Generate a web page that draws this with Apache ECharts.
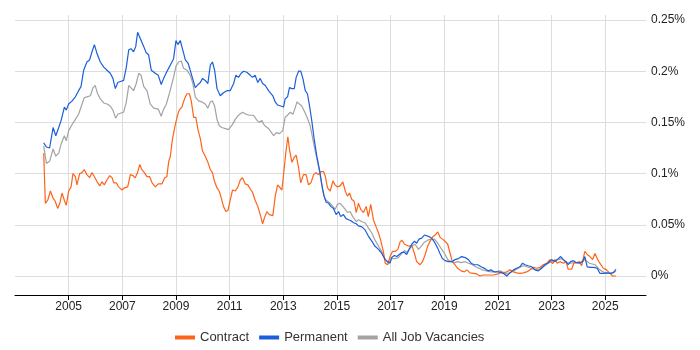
<!DOCTYPE html>
<html>
<head>
<meta charset="utf-8">
<script src="https://cdn.jsdelivr.net/npm/echarts@6/dist/echarts.min.js"></script>
<style>html,body{margin:0;padding:0;background:#fff;}#c{width:700px;height:350px;}</style>
</head>
<body>
<div id="c"></div>
<script>
var yearTicks = [2005,2007,2009,2011,2013,2015,2017,2019,2021,2023,2025];
var valueTicks = [0,0.05,0.1,0.15,0.2,0.25];
var seriesNames = ['Contract','Permanent','All Job Vacancies'];

var contractData = [[2004.07,0.120],[2004.13,0.071],[2004.22,0.074],[2004.32,0.083],[2004.42,0.076],[2004.50,0.073],[2004.59,0.066],[2004.67,0.071],[2004.75,0.081],[2004.84,0.074],[2004.91,0.069],[2005.00,0.083],[2005.09,0.087],[2005.16,0.100],[2005.25,0.097],[2005.31,0.089],[2005.41,0.100],[2005.50,0.101],[2005.58,0.104],[2005.68,0.099],[2005.78,0.096],[2005.87,0.101],[2005.96,0.097],[2006.06,0.092],[2006.16,0.088],[2006.24,0.092],[2006.33,0.089],[2006.43,0.094],[2006.53,0.098],[2006.62,0.096],[2006.68,0.091],[2006.78,0.091],[2006.86,0.087],[2006.99,0.084],[2007.07,0.086],[2007.20,0.087],[2007.30,0.099],[2007.40,0.098],[2007.48,0.096],[2007.57,0.101],[2007.65,0.109],[2007.73,0.104],[2007.82,0.101],[2007.92,0.097],[2008.02,0.097],[2008.11,0.091],[2008.23,0.087],[2008.34,0.090],[2008.48,0.090],[2008.58,0.096],[2008.66,0.097],[2008.73,0.112],[2008.79,0.117],[2008.87,0.134],[2008.97,0.147],[2009.05,0.156],[2009.12,0.162],[2009.22,0.165],[2009.32,0.173],[2009.41,0.178],[2009.50,0.178],[2009.57,0.171],[2009.66,0.155],[2009.74,0.155],[2009.82,0.143],[2009.91,0.134],[2009.99,0.122],[2010.09,0.117],[2010.19,0.111],[2010.28,0.104],[2010.36,0.101],[2010.44,0.092],[2010.53,0.086],[2010.61,0.083],[2010.69,0.076],[2010.77,0.068],[2010.86,0.063],[2010.94,0.064],[2011.02,0.074],[2011.11,0.084],[2011.21,0.083],[2011.31,0.087],[2011.40,0.094],[2011.48,0.096],[2011.58,0.090],[2011.68,0.089],[2011.77,0.085],[2011.85,0.082],[2011.95,0.074],[2012.05,0.068],[2012.14,0.060],[2012.23,0.051],[2012.30,0.057],[2012.39,0.063],[2012.48,0.060],[2012.61,0.059],[2012.70,0.078],[2012.79,0.089],[2012.86,0.088],[2012.95,0.084],[2013.03,0.104],[2013.11,0.124],[2013.17,0.136],[2013.23,0.124],[2013.32,0.111],[2013.41,0.116],[2013.48,0.118],[2013.57,0.106],[2013.65,0.091],[2013.75,0.099],[2013.85,0.099],[2013.94,0.089],[2014.03,0.091],[2014.13,0.099],[2014.23,0.101],[2014.31,0.099],[2014.40,0.102],[2014.50,0.102],[2014.56,0.098],[2014.65,0.086],[2014.75,0.083],[2014.85,0.093],[2014.93,0.089],[2015.02,0.087],[2015.12,0.088],[2015.22,0.092],[2015.31,0.083],[2015.39,0.078],[2015.47,0.081],[2015.55,0.075],[2015.64,0.073],[2015.72,0.062],[2015.80,0.071],[2015.89,0.065],[2015.99,0.062],[2016.09,0.068],[2016.17,0.058],[2016.26,0.070],[2016.36,0.055],[2016.46,0.048],[2016.55,0.042],[2016.63,0.035],[2016.73,0.024],[2016.80,0.0125],[2016.89,0.011],[2016.98,0.019],[2017.07,0.024],[2017.17,0.024],[2017.27,0.026],[2017.35,0.033],[2017.42,0.035],[2017.52,0.031],[2017.60,0.030],[2017.69,0.029],[2017.79,0.030],[2017.89,0.022],[2017.97,0.014],[2018.10,0.011],[2018.19,0.014],[2018.29,0.021],[2018.38,0.029],[2018.47,0.034],[2018.56,0.038],[2018.66,0.040],[2018.76,0.043],[2018.84,0.038],[2018.93,0.036],[2019.03,0.034],[2019.13,0.031],[2019.22,0.022],[2019.30,0.014],[2019.40,0.011],[2019.50,0.0075],[2019.63,0.005],[2019.75,0.004],[2019.84,0.006],[2019.96,0.003],[2020.09,0.0026],[2020.21,0.002],[2020.33,0.000],[2020.46,0.001],[2020.64,0.001],[2020.83,0.001],[2021.02,0.002],[2021.12,0.004],[2021.20,0.003],[2021.33,0.004],[2021.45,0.006],[2021.58,0.004],[2021.70,0.003],[2021.82,0.0026],[2021.95,0.003],[2022.07,0.004],[2022.20,0.006],[2022.32,0.0085],[2022.44,0.0076],[2022.57,0.0085],[2022.69,0.011],[2022.82,0.0125],[2022.94,0.016],[2023.04,0.012],[2023.13,0.016],[2023.21,0.0125],[2023.31,0.014],[2023.44,0.0125],[2023.54,0.014],[2023.62,0.0066],[2023.75,0.0066],[2023.83,0.0125],[2023.93,0.013],[2024.03,0.014],[2024.12,0.010],[2024.24,0.024],[2024.33,0.021],[2024.43,0.019],[2024.53,0.016],[2024.62,0.022],[2024.70,0.017],[2024.80,0.0125],[2024.93,0.0076],[2025.05,0.006],[2025.18,0.0026],[2025.27,0.000],[2025.40,0.000]];

var permanentData = [[2004.07,0.130],[2004.17,0.126],[2004.29,0.125],[2004.42,0.145],[2004.52,0.137],[2004.63,0.145],[2004.72,0.152],[2004.84,0.165],[2004.91,0.162],[2005.00,0.168],[2005.13,0.171],[2005.25,0.175],[2005.37,0.181],[2005.46,0.185],[2005.56,0.201],[2005.68,0.209],[2005.78,0.211],[2005.87,0.219],[2005.96,0.226],[2006.06,0.217],[2006.18,0.209],[2006.31,0.204],[2006.43,0.201],[2006.55,0.198],[2006.65,0.193],[2006.74,0.183],[2006.83,0.189],[2006.93,0.190],[2007.05,0.191],[2007.15,0.204],[2007.24,0.221],[2007.32,0.222],[2007.42,0.219],[2007.50,0.224],[2007.57,0.238],[2007.67,0.232],[2007.80,0.224],[2007.89,0.218],[2007.98,0.216],[2008.08,0.201],[2008.23,0.198],[2008.34,0.196],[2008.45,0.187],[2008.54,0.193],[2008.63,0.198],[2008.73,0.203],[2008.83,0.208],[2008.91,0.212],[2009.00,0.230],[2009.07,0.226],[2009.16,0.230],[2009.25,0.221],[2009.35,0.211],[2009.45,0.208],[2009.53,0.201],[2009.62,0.193],[2009.72,0.184],[2009.82,0.187],[2009.91,0.189],[2009.99,0.193],[2010.09,0.191],[2010.19,0.188],[2010.28,0.206],[2010.36,0.209],[2010.44,0.201],[2010.53,0.183],[2010.65,0.176],[2010.77,0.179],[2010.90,0.181],[2011.02,0.181],[2011.15,0.188],[2011.23,0.196],[2011.33,0.194],[2011.43,0.198],[2011.52,0.200],[2011.64,0.199],[2011.77,0.196],[2011.85,0.194],[2011.95,0.196],[2012.05,0.189],[2012.14,0.193],[2012.23,0.188],[2012.33,0.186],[2012.45,0.181],[2012.61,0.176],[2012.70,0.170],[2012.79,0.167],[2012.91,0.166],[2013.01,0.165],[2013.07,0.173],[2013.16,0.175],[2013.23,0.184],[2013.32,0.183],[2013.41,0.183],[2013.48,0.194],[2013.57,0.200],[2013.65,0.200],[2013.73,0.193],[2013.82,0.181],[2013.90,0.178],[2013.98,0.166],[2014.06,0.152],[2014.15,0.134],[2014.25,0.117],[2014.35,0.104],[2014.44,0.089],[2014.52,0.078],[2014.60,0.072],[2014.69,0.071],[2014.77,0.068],[2014.87,0.066],[2014.97,0.060],[2015.06,0.063],[2015.14,0.058],[2015.24,0.060],[2015.34,0.056],[2015.43,0.055],[2015.52,0.054],[2015.62,0.052],[2015.72,0.051],[2015.80,0.049],[2015.93,0.048],[2016.05,0.045],[2016.17,0.039],[2016.30,0.034],[2016.42,0.029],[2016.55,0.026],[2016.67,0.022],[2016.80,0.016],[2016.89,0.014],[2016.98,0.0125],[2017.04,0.018],[2017.14,0.020],[2017.23,0.019],[2017.32,0.021],[2017.42,0.023],[2017.52,0.023],[2017.60,0.021],[2017.69,0.026],[2017.79,0.031],[2017.89,0.034],[2017.97,0.032],[2018.06,0.036],[2018.16,0.037],[2018.26,0.040],[2018.38,0.039],[2018.47,0.038],[2018.56,0.036],[2018.66,0.032],[2018.76,0.027],[2018.84,0.022],[2018.93,0.017],[2019.03,0.015],[2019.15,0.014],[2019.28,0.014],[2019.40,0.016],[2019.53,0.017],[2019.65,0.019],[2019.78,0.018],[2019.90,0.016],[2020.00,0.0125],[2020.12,0.011],[2020.25,0.011],[2020.37,0.009],[2020.50,0.0075],[2020.64,0.005],[2020.74,0.006],[2020.87,0.004],[2021.02,0.004],[2021.20,0.0026],[2021.33,0.000],[2021.45,0.003],[2021.58,0.006],[2021.70,0.0076],[2021.82,0.009],[2021.92,0.0125],[2022.01,0.011],[2022.13,0.010],[2022.26,0.009],[2022.38,0.006],[2022.51,0.005],[2022.63,0.0076],[2022.75,0.011],[2022.88,0.013],[2023.00,0.016],[2023.13,0.014],[2023.21,0.016],[2023.34,0.019],[2023.44,0.016],[2023.54,0.014],[2023.62,0.011],[2023.71,0.014],[2023.81,0.015],[2023.93,0.013],[2024.03,0.0125],[2024.16,0.014],[2024.24,0.019],[2024.33,0.009],[2024.46,0.0085],[2024.58,0.0085],[2024.70,0.0076],[2024.80,0.0026],[2024.93,0.0026],[2025.05,0.003],[2025.18,0.0026],[2025.30,0.003],[2025.40,0.0066]];

var allJobsData = [[2004.07,0.127],[2004.17,0.110],[2004.29,0.112],[2004.42,0.124],[2004.52,0.117],[2004.63,0.120],[2004.72,0.129],[2004.84,0.137],[2004.91,0.132],[2005.00,0.142],[2005.13,0.148],[2005.25,0.153],[2005.37,0.158],[2005.50,0.168],[2005.58,0.174],[2005.68,0.175],[2005.81,0.176],[2005.91,0.184],[2005.99,0.186],[2006.08,0.178],[2006.18,0.173],[2006.31,0.169],[2006.43,0.168],[2006.55,0.166],[2006.65,0.162],[2006.75,0.154],[2006.83,0.158],[2006.93,0.159],[2007.05,0.160],[2007.15,0.170],[2007.24,0.186],[2007.32,0.184],[2007.42,0.181],[2007.52,0.188],[2007.61,0.198],[2007.70,0.196],[2007.80,0.185],[2007.92,0.181],[2008.04,0.168],[2008.17,0.164],[2008.34,0.163],[2008.45,0.156],[2008.54,0.163],[2008.63,0.167],[2008.73,0.176],[2008.83,0.186],[2008.91,0.194],[2009.00,0.205],[2009.10,0.209],[2009.20,0.210],[2009.28,0.203],[2009.41,0.201],[2009.53,0.196],[2009.62,0.189],[2009.72,0.175],[2009.84,0.171],[2009.97,0.170],[2010.09,0.168],[2010.19,0.164],[2010.28,0.170],[2010.36,0.171],[2010.44,0.166],[2010.53,0.153],[2010.61,0.147],[2010.71,0.145],[2010.84,0.144],[2010.96,0.143],[2011.08,0.147],[2011.21,0.153],[2011.33,0.157],[2011.48,0.160],[2011.61,0.158],[2011.73,0.157],[2011.89,0.157],[2012.02,0.152],[2012.10,0.150],[2012.20,0.152],[2012.30,0.147],[2012.45,0.144],[2012.51,0.142],[2012.64,0.137],[2012.74,0.140],[2012.86,0.139],[2012.98,0.142],[2013.07,0.155],[2013.16,0.157],[2013.26,0.160],[2013.36,0.158],[2013.44,0.164],[2013.51,0.170],[2013.60,0.168],[2013.69,0.166],[2013.82,0.159],[2013.90,0.154],[2014.00,0.147],[2014.10,0.134],[2014.19,0.122],[2014.28,0.111],[2014.37,0.099],[2014.47,0.083],[2014.56,0.075],[2014.65,0.073],[2014.75,0.071],[2014.85,0.068],[2014.93,0.065],[2015.02,0.070],[2015.12,0.071],[2015.22,0.068],[2015.31,0.065],[2015.39,0.062],[2015.49,0.063],[2015.59,0.058],[2015.72,0.053],[2015.80,0.055],[2015.93,0.053],[2016.05,0.052],[2016.17,0.047],[2016.30,0.042],[2016.42,0.035],[2016.55,0.029],[2016.67,0.024],[2016.80,0.016],[2016.92,0.013],[2017.04,0.017],[2017.17,0.017],[2017.29,0.018],[2017.42,0.022],[2017.52,0.025],[2017.60,0.023],[2017.69,0.026],[2017.79,0.029],[2017.91,0.031],[2018.04,0.026],[2018.14,0.029],[2018.26,0.033],[2018.38,0.035],[2018.51,0.036],[2018.63,0.036],[2018.76,0.032],[2018.88,0.027],[2019.01,0.022],[2019.13,0.016],[2019.25,0.014],[2019.38,0.013],[2019.50,0.014],[2019.63,0.013],[2019.78,0.014],[2019.90,0.0125],[2020.05,0.011],[2020.17,0.009],[2020.30,0.0075],[2020.42,0.006],[2020.58,0.005],[2020.74,0.004],[2020.89,0.004],[2021.08,0.005],[2021.33,0.002],[2021.58,0.005],[2021.82,0.0085],[2021.95,0.010],[2022.13,0.0085],[2022.32,0.0066],[2022.51,0.006],[2022.69,0.009],[2022.88,0.0125],[2023.06,0.015],[2023.25,0.016],[2023.38,0.017],[2023.54,0.013],[2023.69,0.0125],[2023.87,0.013],[2024.06,0.013],[2024.24,0.016],[2024.41,0.0125],[2024.62,0.011],[2024.80,0.006],[2024.99,0.003],[2025.18,0.0026],[2025.36,0.004],[2025.40,0.005]];

var FONT = 'Liberation Sans, Arial, sans-serif';
var chart = echarts.init(document.getElementById('c'), null, {renderer: 'canvas'});
chart.setOption({
  animation: false,
  textStyle: {fontFamily: FONT},
  grid: {left: 15, right: 54, top: 15, bottom: 55, containLabel: false},
  legend: {
    data: seriesNames,
    left: 170, top: 326,
    icon: 'rect', itemWidth: 20, itemHeight: 4, itemGap: 10,
    textStyle: {fontSize: 13, color: '#333', fontFamily: FONT}
  },
  xAxis: {
    type: 'value',
    min: 2003.0, max: 2026.52,
    axisLine: {show: true, onZero: false, lineStyle: {color: '#000', width: 1}},
    axisTick: {show: true, length: 5, lineStyle: {color: '#000'}, customValues: yearTicks},
    axisLabel: {show: true, customValues: yearTicks, color: '#222', fontSize: 12, margin: 6, fontFamily: FONT,
      formatter: function (v) { return String(Math.round(v)); }},
    splitLine: {show: true, lineStyle: {color: '#dddddd', width: 1}}
  },
  yAxis: {
    type: 'value',
    position: 'right',
    min: -0.01855, max: 0.2549,
    axisLine: {show: false},
    axisTick: {show: false, customValues: valueTicks},
    axisLabel: {show: true, customValues: valueTicks, color: '#222', fontSize: 12, margin: 5, fontFamily: FONT,
      formatter: function (v) { return (Math.round(v * 100) / 100) + '%'; }},
    splitLine: {show: true, lineStyle: {color: '#dddddd', width: 1}}
  },
  series: [
    {name: seriesNames[2], type: 'line', data: allJobsData, showSymbol: false, symbol: 'none', z: 1,
      lineStyle: {color: '#a3a3a3', width: 1.2}, itemStyle: {color: '#a3a3a3'}},
    {name: seriesNames[0], type: 'line', data: contractData, showSymbol: false, symbol: 'none', z: 2,
      lineStyle: {color: '#ff6319', width: 1.2}, itemStyle: {color: '#ff6319'}},
    {name: seriesNames[1], type: 'line', data: permanentData, showSymbol: false, symbol: 'none', z: 3,
      lineStyle: {color: '#1a5fd9', width: 1.2}, itemStyle: {color: '#1a5fd9'}}
  ]
});
</script>
</body>
</html>
